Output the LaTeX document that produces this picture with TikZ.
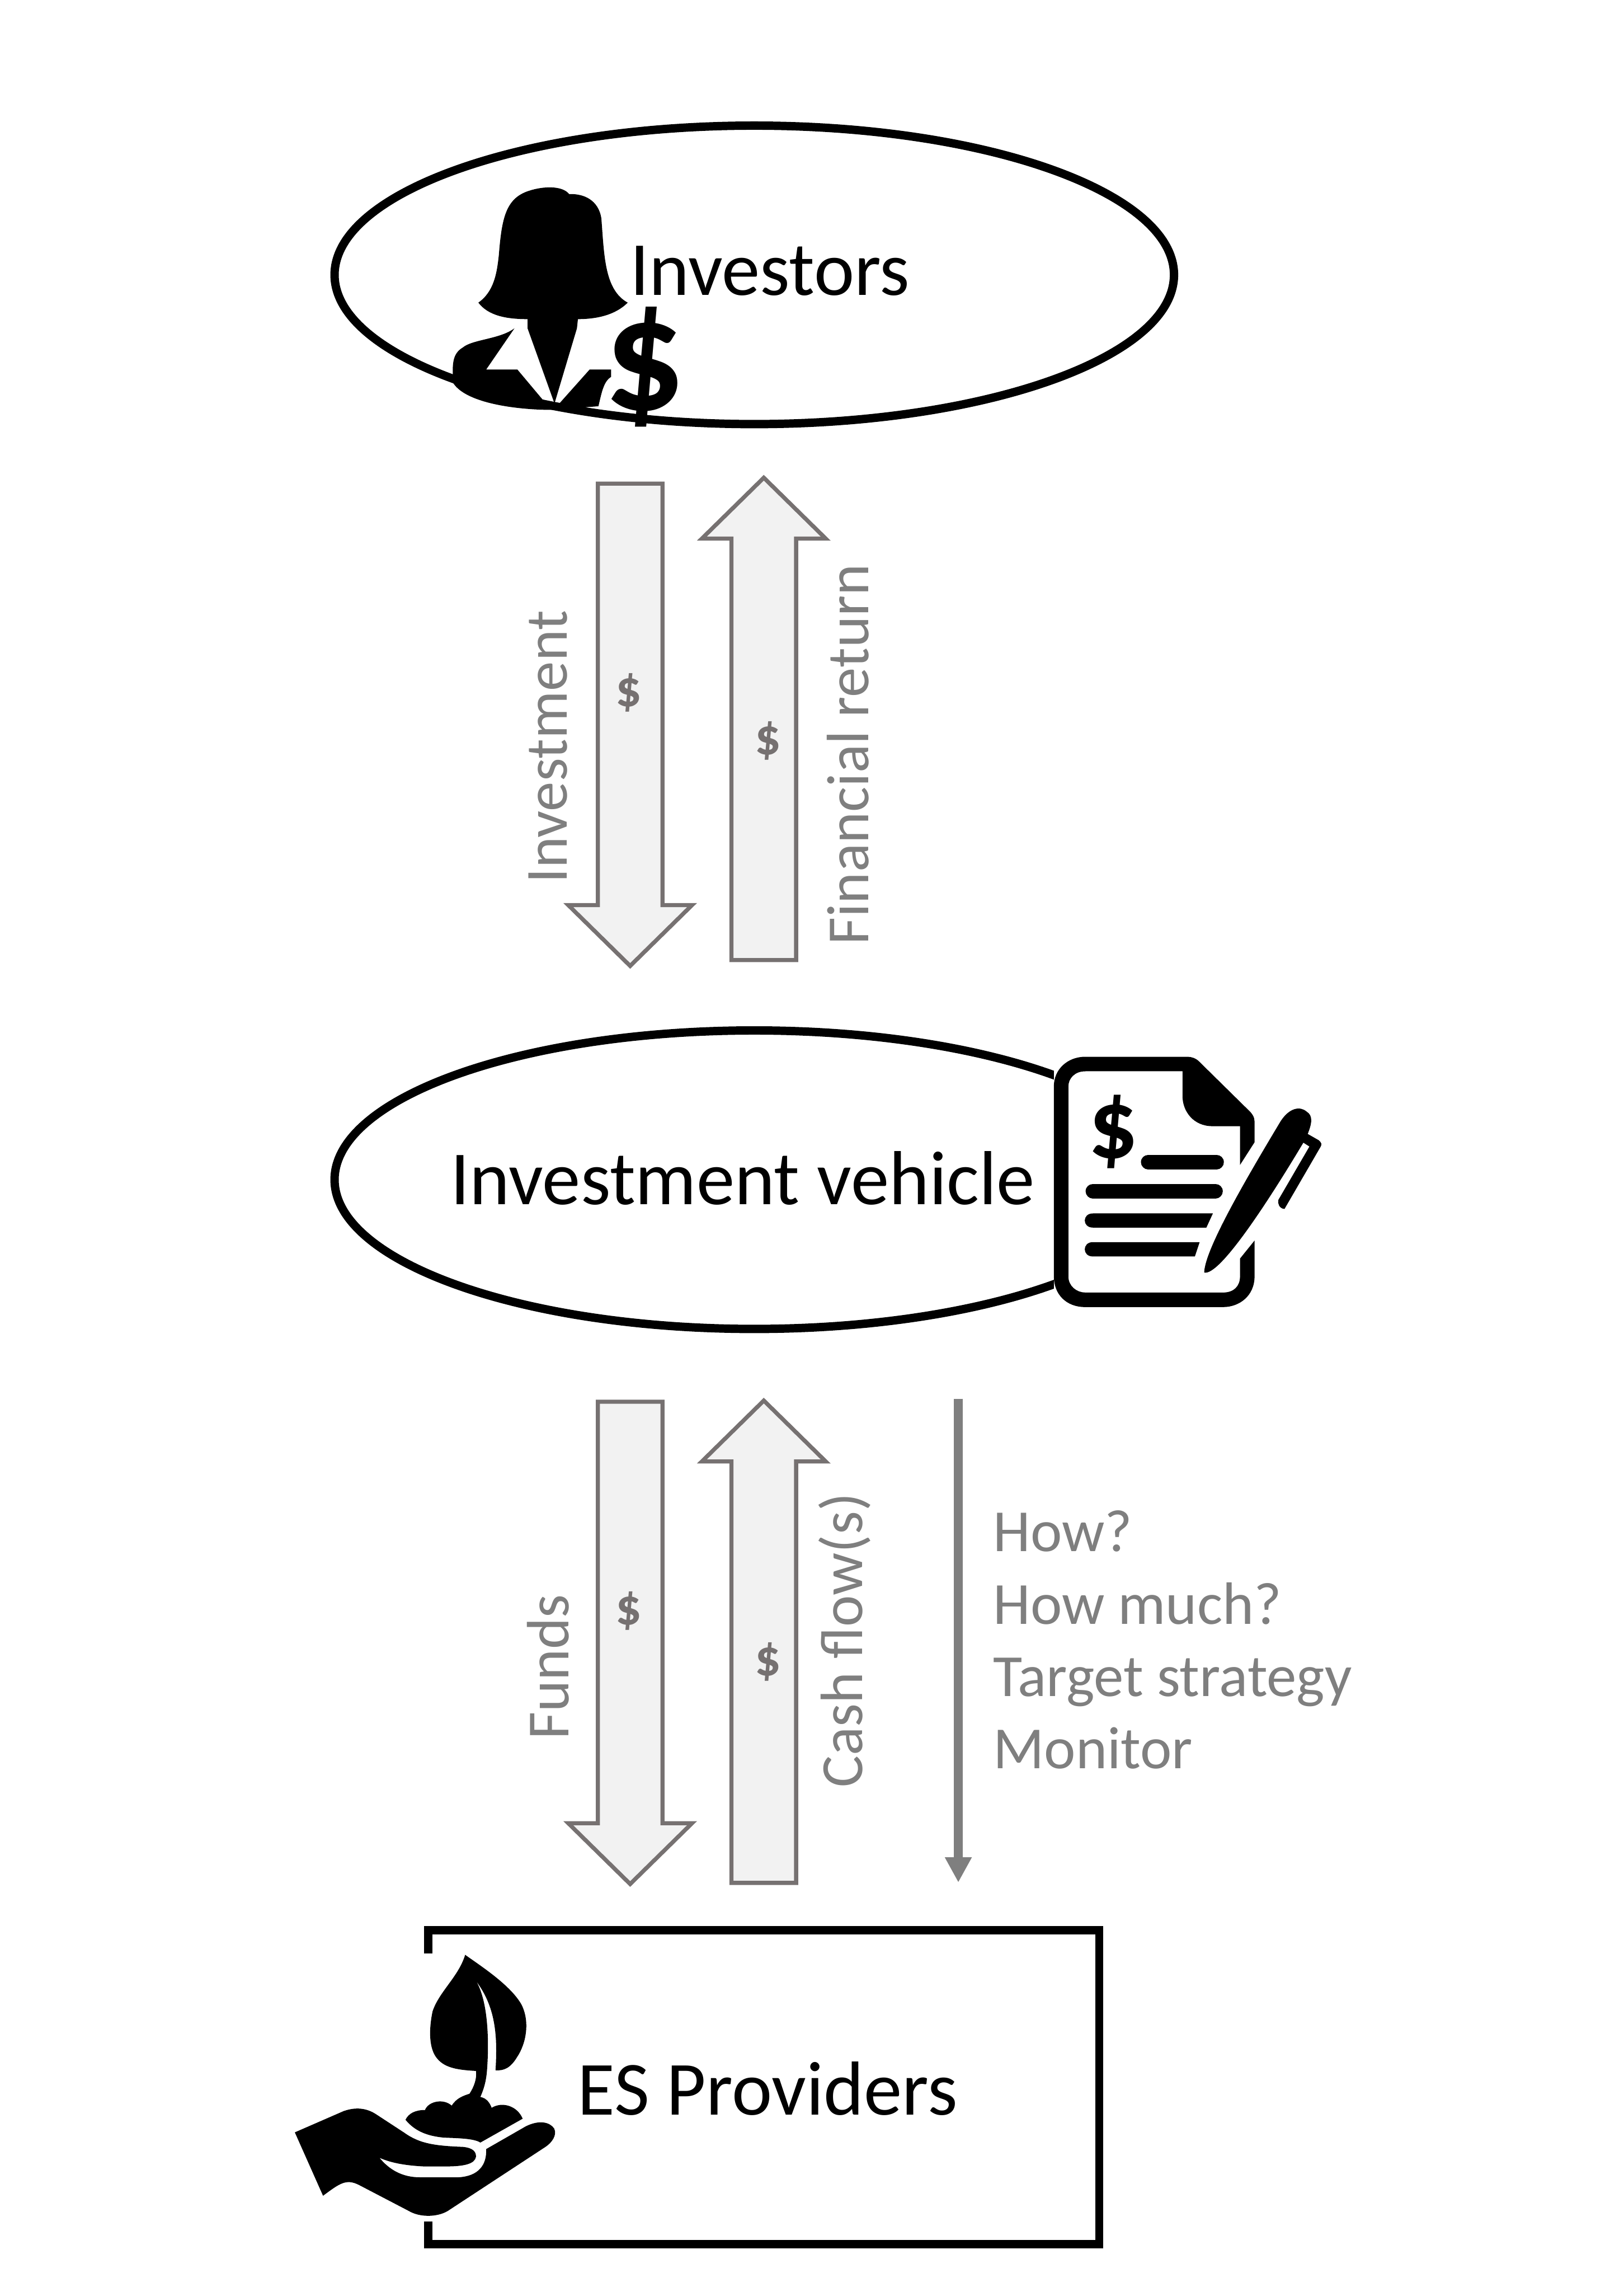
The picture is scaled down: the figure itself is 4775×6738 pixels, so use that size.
\documentclass[tikz,border=0pt]{standalone}
\usepackage{fontspec}
\setmainfont{Carlito}
\usepackage{tikz}
\usetikzlibrary{arrows.meta, shapes.geometric, shapes.arrows}
\definecolor{flowline}{HTML}{767171}
\definecolor{flowfill}{HTML}{F2F2F2}
\definecolor{flowtext}{HTML}{7F7F7F}
\tikzset{
  party/.style={draw,ellipse,line width=7pt,minimum width=24.67cm,minimum height=8.77cm,inner sep=0pt,outer sep=0pt},
  partybox/.style={draw,rectangle,line width=6.8pt,minimum width=19.72cm,minimum height=9.22cm,inner sep=0pt,outer sep=0pt},
  flowblock/.style={draw=flowline,fill=flowfill,line width=3.4pt,single arrow,minimum height=14.17cm,minimum width=3.52cm,
    single arrow head extend=0.87cm,single arrow tip angle=91,inner xsep=0pt,inner ysep=0.89cm,outer sep=0pt},
  bigtext/.style={font=\fontsize{64}{76}\selectfont,inner sep=0pt},
  flowlabel/.style={font=\fontsize{50}{60}\selectfont,text=flowtext,inner sep=0pt},
  dollar/.style={font=\fontsize{43}{50}\selectfont\bfseries,text=flowline,inner sep=0pt},
  iconglyph/.style={font=\fontsize{#1}{#1}\selectfont\bfseries,inner sep=0pt}
}
\begin{document}
\begin{tikzpicture}[x=0.01cm,y=-0.01cm]
\useasboundingbox (0,0) rectangle (4775,6738);
\node[party] (investors) at (2218,808) {};
\node[party] (vehicle) at (2218,3468) {};
\node[partybox] (providers) at (2246,6136) {};
\fill[white] (3099,3090) rectangle (3950,3960);
\fill[white] (867,5742) rectangle (1635,6530);
\node[bigtext,anchor=west] (investorstext) at (1852,796) {Investors};
\node[bigtext,anchor=west] (vehicletext) at (1324,3464) {Investment vehicle};
\node[bigtext,anchor=west] (providerstext) at (1698,6140) {ES Providers};

% block arrows
\node[flowblock,rotate=-90] (investment) at (1853,2084) {};
\node[flowblock,rotate=90] (return) at (2246,2160) {};
\node[flowblock,rotate=-90] (funds) at (1853,4783) {};
\node[flowblock,rotate=90] (cashflow) at (2246,4873) {};
\node[dollar] (dollara) at (1848,2036) {\$};
\node[dollar] (dollarb) at (2258,2178) {\$};
\node[dollar] (dollarc) at (1848,4735) {\$};
\node[dollar] (dollard) at (2258,4885) {\$};
\node[flowlabel,rotate=90] (investmenttext) at (1612,2196) {Investment};
\node[flowlabel,rotate=90] (returntext) at (2493,2218) {Financial return};
\node[flowlabel,rotate=90] (fundstext) at (1612,4900) {Funds};
\node[flowlabel,rotate=90] (cashflowtext) at (2484,4822) {Cash flow(s)};

% guidance arrow
\coordinate (guidetop) at (2818,4112);
\coordinate (guideend) at (2818,5534);
\draw[flowtext,line width=7.1pt,-{Triangle[width=21pt,length=21pt]}] (guidetop) -- (guideend);
\node[flowlabel,anchor=west,align=left,font=\fontsize{50}{60.5}\selectfont] (guidetext) at (2920,4821) {How?\\How much?\\Target strategy\\Monitor};

% woman icon
\begin{scope}[shift={(1200,480)},xscale=0.574,yscale=0.539]
\fill (360,760) .. controls (440,700) and (455,600) .. (465,500) .. controls (480,300) and (500,190) .. (620,150)
  .. controls (690,125) and (790,120) .. (825,168) .. controls (900,165) and (975,200) .. (990,300)
  .. controls (1005,500) and (1005,690) .. (1125,760) .. controls (1060,830) and (960,850) .. (870,850)
  -- (865,900) -- (750,1310) -- (612,900) -- (612,850) .. controls (500,850) and (410,830) .. (360,760) -- cycle;
\fill (545,900) .. controls (470,960) and (330,960) .. (280,1005) .. controls (225,1040) and (225,1100) .. (232,1200)
  .. controls (300,1310) and (560,1345) .. (740,1345) -- (975,1325) .. controls (990,1260) and (1000,1190) .. (1040,1165)
  -- (1040,1125) -- (930,1125) -- (775,1310) -- (690,1290) -- (560,1125) -- (400,1125) -- cycle;
\node[iconglyph=134] (womandollar) at (1211,1112) {\$};
\end{scope}

% document icon
\begin{scope}[shift={(3000,3000)},xscale=0.638,yscale=0.57]
\fill (155,340) .. controls (155,250) and (220,187) .. (300,187) -- (770,187) .. controls (790,187) and (810,195) .. (825,212)
  -- (1050,460) .. controls (1070,480) and (1080,500) .. (1080,520) -- (1080,628) -- (1013,745) -- (1013,545) -- (885,545)
  .. controls (800,545) and (748,470) .. (748,390) -- (748,262) -- (300,262) .. controls (250,262) and (222,300) .. (222,340)
  -- (222,1320) .. controls (222,1370) and (260,1403) .. (300,1403) -- (935,1403) .. controls (985,1403) and (1013,1370) .. (1013,1320)
  -- (1013,1228) -- (1080,1135) -- (1080,1320) .. controls (1080,1420) and (1010,1478) .. (935,1478) -- (300,1478)
  .. controls (210,1478) and (155,1410) .. (155,1320) -- cycle;
\draw[line width=12.2pt,line cap=round] (590,730) -- (905,730);
\draw[line width=12.2pt,line cap=round] (335,880) -- (900,880);
\fill (335,995) -- (888,995) -- (858,1068) -- (335,1068) .. controls (285,1068) and (285,995) .. (335,995) -- cycle;
\fill (335,1143) -- (827,1143) -- (805,1217) -- (335,1217) .. controls (285,1217) and (285,1143) .. (335,1143) -- cycle;
\fill (848,1300) .. controls (850,1180) and (1050,800) .. (1200,520) .. controls (1240,450) and (1290,440) .. (1320,470)
  .. controls (1350,490) and (1345,530) .. (1325,585) -- (1375,617) .. controls (1390,630) and (1390,640) .. (1385,650)
  -- (1218,972) .. controls (1195,970) and (1185,945) .. (1190,925) -- (1333,650) -- (1305,630)
  .. controls (1150,920) and (920,1320) .. (848,1300) -- cycle;
\node[iconglyph=82] (docdollar) at (428,575) {\$};
\end{scope}

% hand icon
\begin{scope}[shift={(800,5600)},scale=0.638]
\fill (105,1048) -- (330,950) .. controls (400,925) and (450,945) .. (480,965) -- (610,1050)
  .. controls (680,1100) and (750,1110) .. (880,1115) .. controls (930,1120) and (940,1140) .. (940,1160)
  .. controls (935,1195) and (880,1205) .. (800,1205) -- (700,1205) .. controls (600,1200) and (540,1185) .. (495,1165)
  .. controls (540,1220) and (600,1255) .. (680,1255) -- (860,1255) .. controls (950,1250) and (990,1200) .. (987,1125)
  -- (1170,1020) .. controls (1230,990) and (1280,1000) .. (1300,1030) .. controls (1315,1060) and (1290,1095) .. (1260,1115)
  -- (810,1410) .. controls (760,1440) and (680,1440) .. (630,1410) -- (400,1290) .. controls (340,1260) and (310,1285) .. (235,1340) -- cycle;
\fill (615,990) .. controls (630,960) and (660,945) .. (705,945) .. controls (720,905) and (790,890) .. (828,925)
  .. controls (850,890) and (880,880) .. (910,870) .. controls (930,840) and (945,800) .. (940,765)
  .. controls (850,760) and (790,750) .. (755,700) .. controls (720,650) and (725,560) .. (740,490)
  .. controls (770,400) and (860,330) .. (890,230) .. controls (960,280) and (1100,370) .. (1150,460)
  .. controls (1190,540) and (1170,640) .. (1130,700) .. controls (1100,750) and (1070,765) .. (1030,762)
  .. controls (1040,600) and (1030,470) .. (940,350) .. controls (1000,450) and (1000,650) .. (990,770)
  .. controls (985,820) and (975,850) .. (960,885) .. controls (990,890) and (1005,915) .. (1012,935)
  .. controls (1060,905) and (1130,925) .. (1155,985) -- (960,1095) .. controls (930,1075) and (850,1075) .. (790,1072)
  .. controls (720,1065) and (660,1045) .. (615,990) -- cycle;
\end{scope}
\end{tikzpicture}
\end{document}
